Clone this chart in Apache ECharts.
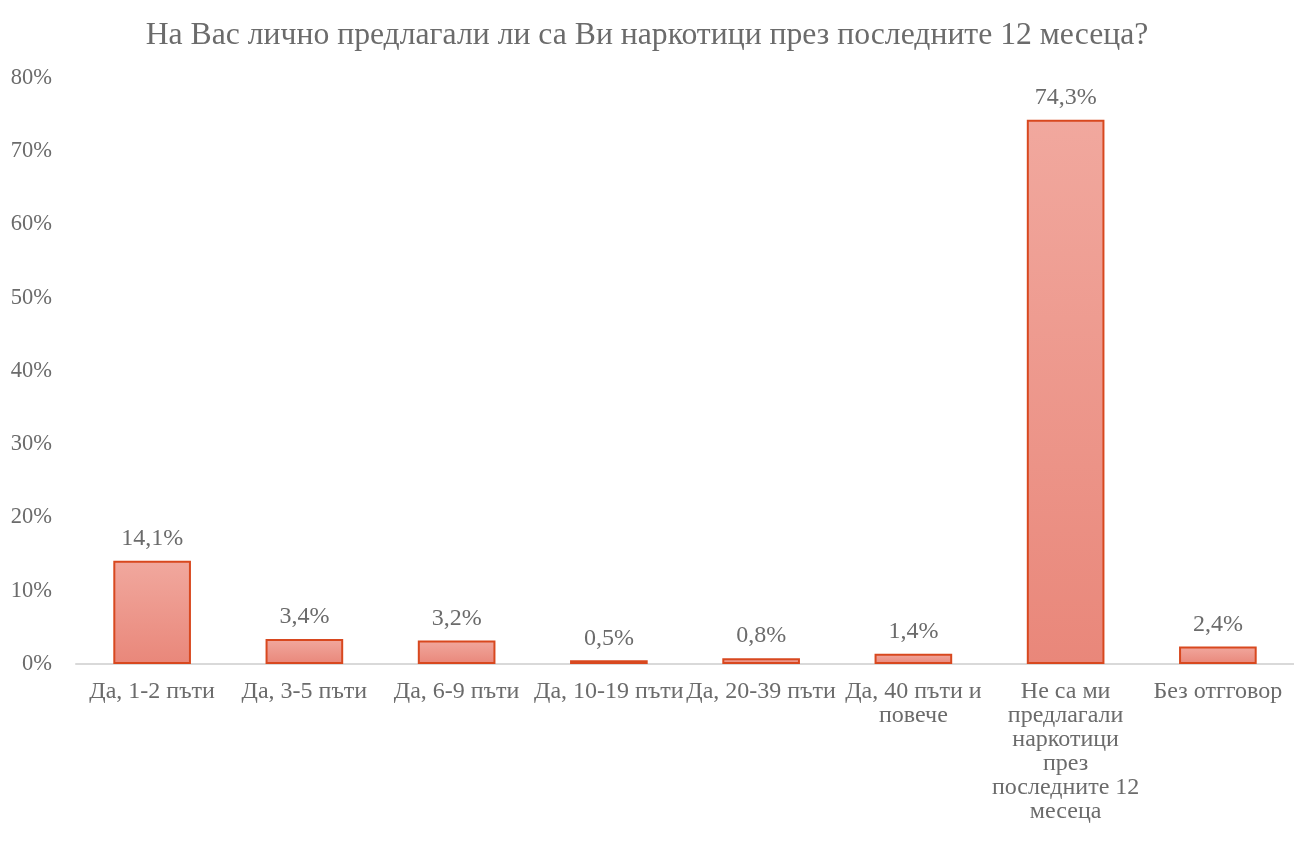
<!DOCTYPE html>
<html>
<head>
<meta charset="utf-8">
<script src="https://cdn.jsdelivr.net/npm/echarts@6/dist/echarts.min.js"></script>
<style>html,body{margin:0;padding:0;background:#fff;}#c{width:1294px;height:841px;}</style>
</head>
<body>
<div id="c"></div>
<script>
const titleText = 'На Вас лично предлагали ли са Ви наркотици през последните 12 месеца?';
const categories = [
  'Да, 1-2 пъти',
  'Да, 3-5 пъти',
  'Да, 6-9 пъти',
  'Да, 10-19 пъти',
  'Да, 20-39 пъти',
  'Да, 40 пъти и\nповече',
  'Не са ми\nпредлагали\nнаркотици\nпрез\nпоследните 12\nмесеца',
  'Без отгговор'
];
const values = [14.1, 3.4, 3.2, 0.5, 0.8, 1.4, 74.3, 2.4];
const yTicks = [0, 10, 20, 30, 40, 50, 60, 70, 80];

const font = '"Liberation Serif", "Times New Roman", serif';
const grey = '#6B6B6B';
const chart = echarts.init(document.getElementById('c'), null, {renderer: 'canvas'});
chart.setOption({
  animation: false,
  backgroundColor: '#fff',
  title: {
    text: titleText,
    left: 'center',
    top: 15,
    textStyle: {fontFamily: font, fontSize: 31.7, fontWeight: 'normal', color: grey}
  },
  grid: {left: 76, right: -9, top: 78, bottom: 177, containLabel: false},
  xAxis: {
    type: 'category',
    data: categories,
    axisLine: {show: true, lineStyle: {color: '#D9D9D9', width: 2}},
    axisTick: {show: false},
    axisLabel: {
      interval: 0,
      margin: 16,
      fontFamily: font, fontSize: 24, color: grey, lineHeight: 24,
      verticalAlign: 'top'
    }
  },
  yAxis: {
    type: 'value',
    min: yTicks[0], max: yTicks[yTicks.length - 1], interval: 10,
    splitLine: {show: false},
    axisLine: {show: false},
    axisTick: {show: false},
    axisLabel: {
      margin: 24,
      fontFamily: font, fontSize: 22.5, color: grey,
      formatter: v => v + '%'
    }
  },
  series: [{
    type: 'bar',
    data: values,
    barWidth: '51%',
    itemStyle: {
      color: new echarts.graphic.LinearGradient(0, 0, 0, 1, [
        {offset: 0, color: '#F1A89E'},
        {offset: 1, color: '#E9877A'}
      ]),
      borderColor: '#D8481F',
      borderWidth: 2
    },
    label: {
      show: true,
      position: 'top',
      distance: 10,
      fontFamily: font, fontSize: 24, color: grey,
      formatter: p => p.value.toFixed(1).replace('.', ',') + '%'
    }
  }]
});
</script>
</body>
</html>
